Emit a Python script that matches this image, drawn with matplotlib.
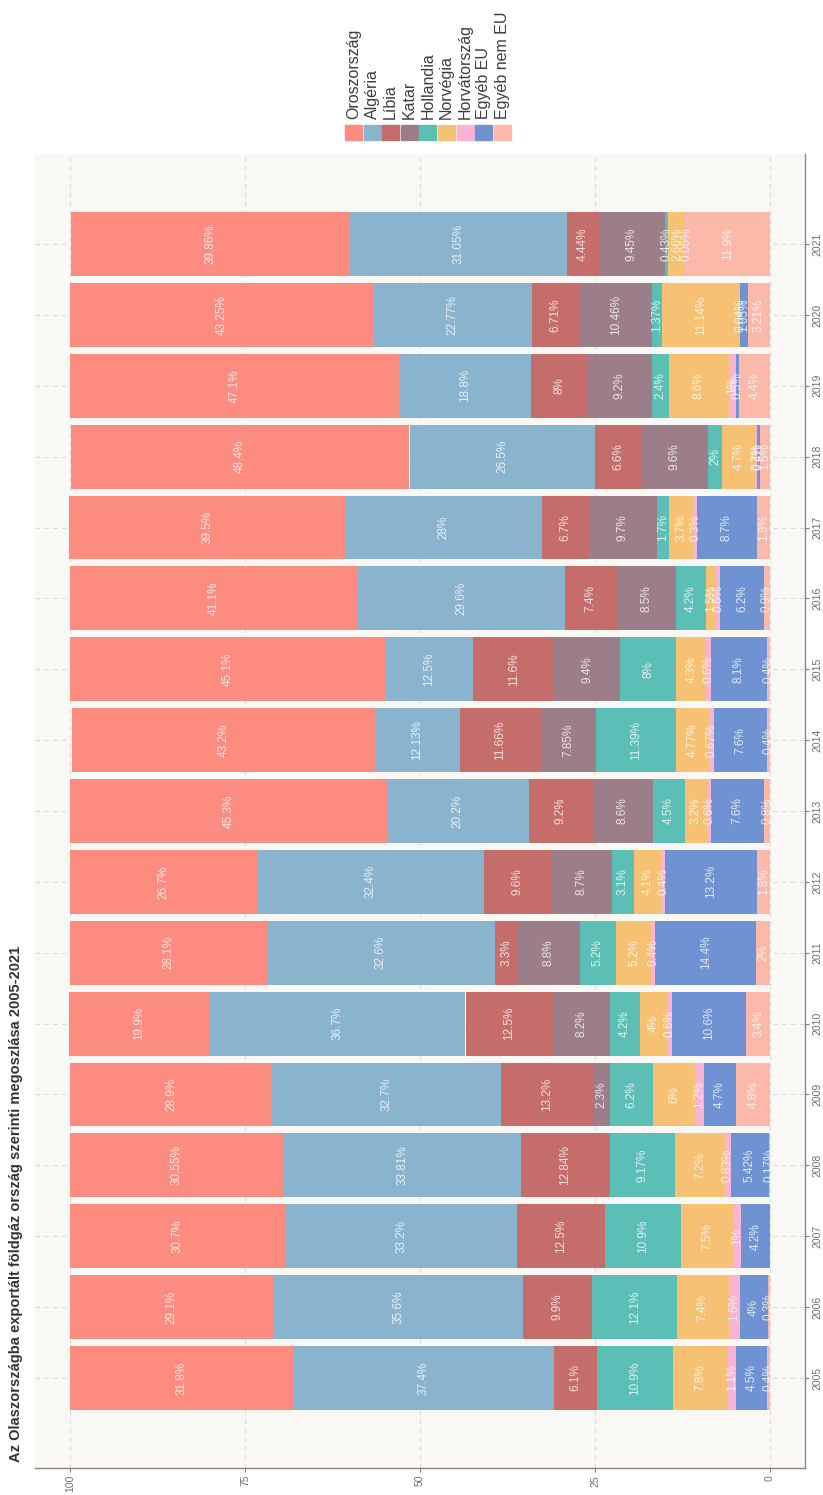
import numpy as np
import matplotlib.pyplot as plt
from matplotlib.patches import Rectangle

plt.rcParams['font.family'] = ['Liberation Sans', 'DejaVu Sans']

years = list(range(2005, 2022))
countries = ["Oroszország", "Algéria", "Líbia", "Katar", "Hollandia",
             "Norvégia", "Horvátország", "Egyéb EU", "Egyéb nem EU"]
colors = ["#FC8B80", "#8AB3CE", "#C46D6B", "#9B7E8A", "#5CBFB5",
          "#F7C174", "#F8B4D2", "#6F92D3", "#FCB8A9"]

# share (%) per year, 2005..2021
orosz = [31.8, 29.1, 30.7, 30.55, 28.9, 19.9, 28.1, 26.7, 45.3, 43.2, 45.1, 41.1, 39.5, 48.4, 47.1, 43.25, 39.86]
algeria = [37.4, 35.6, 33.2, 33.81, 32.7, 36.7, 32.6, 32.4, 20.2, 12.13, 12.5, 29.6, 28, 26.5, 18.8, 22.77, 31.05]
libia = [6.1, 9.9, 12.5, 12.84, 13.2, 12.5, 3.3, 9.6, 9.2, 11.66, 11.6, 7.4, 6.7, 6.6, 8, 6.71, 4.44]
katar = [0, 0, 0, 0, 2.3, 8.2, 8.8, 8.7, 8.6, 7.85, 9.4, 8.5, 9.7, 9.6, 9.2, 10.46, 9.45]
hollandia = [10.9, 12.1, 10.9, 9.17, 6.2, 4.2, 5.2, 3.1, 4.5, 11.39, 8, 4.2, 1.7, 2, 2.4, 1.37, 0.43]
norvegia = [7.8, 7.4, 7.5, 7.2, 6, 4, 5.2, 4.1, 3.2, 4.77, 4.3, 1.5, 3.7, 4.7, 8.6, 11.14, 2.66]
horvat = [1.1, 1.6, 1, 0.83, 1.2, 0.6, 0.4, 0.4, 0.6, 0.67, 0.6, 0.6, 0.3, 0.2, 1, 0.04, 0.06]
egyeb_eu = [4.5, 4, 4.2, 5.42, 4.7, 10.6, 14.4, 13.2, 7.6, 7.6, 8.1, 6.2, 8.7, 0.4, 0.5, 1.05, 0]
egyeb_nem_eu = [0.4, 0.3, 0, 0.17, 4.8, 3.4, 2, 1.8, 0.8, 0.4, 0.4, 0.9, 1.8, 1.5, 4.4, 3.21, 11.9]

series = [orosz, algeria, libia, katar, hollandia, norvegia, horvat, egyeb_eu, egyeb_nem_eu]

W, H = 823, 1495
fig = plt.figure(figsize=(W / 100, H / 100), dpi=100)
fig.patch.set_facecolor("white")

# panel in pixel terms
px0, px1, py0, py1 = 35, 805, 154, 1468
ax = fig.add_axes([px0 / W, 1 - py1 / H, (px1 - px0) / W, (py1 - py0) / H])
ax.set_facecolor("#FAF8F4")

y = np.arange(len(years))
left = np.zeros(len(years))
# stack from 0 (right side) starting with the last legend entry
for name, vals, col in reversed(list(zip(countries, series, colors))):
    vals = np.array(vals, dtype=float)
    ax.barh(y, vals, left=left, height=0.9, color=col, zorder=2)
    for yi, l, v in zip(y, left, vals):
        if v > 0:
            ax.text(l + v / 2, yi, f"{v:g}%", rotation=90, ha="center", va="center",
                    color="white", alpha=0.8, fontsize=8.5, zorder=3)
    left += vals

ax.set_xlim(105, -5)
ax.set_ylim(-1.27, len(years) - 1 + 1.27)
ax.set_xticks([0, 25, 50, 75, 100])
ax.set_xticklabels(["0", "25", "50", "75", "100"], rotation=90, va="top")
ax.set_yticks(y)
ax.set_yticklabels([str(v) for v in years], rotation=90, va="center")
ax.yaxis.tick_right()
ax.tick_params(axis="both", colors="#8a807c", labelcolor="#6e6e6e", labelsize=7.5,
               length=3, pad=2)

ax.grid(True, color="#dadada", linestyle=(0, (4, 4)), linewidth=0.8, zorder=0)
ax.set_axisbelow(True)
for side in ["left", "top"]:
    ax.spines[side].set_visible(False)
for side in ["bottom", "right"]:
    ax.spines[side].set_color("#8f8580")
    ax.spines[side].set_linewidth(1.0)

# legend drawn by hand so its text can stand rotated
for i, (name, col) in enumerate(zip(countries, colors)):
    x0 = 345 + i * 18.6
    fig.patches.append(Rectangle((x0 / W, 1 - 140 / H), 17 / W, 15 / H,
                                 transform=fig.transFigure, color=col))
    fig.text((x0 + 8.5) / W, 1 - 119 / H, name, rotation=90, ha="center", va="bottom",
             fontsize=11.5, color="#3c3c3c")

fig.text(16 / W, 1 - 1462 / H,
         "Az Olaszországba exportált földgáz ország szerinti megoszlása 2005-2021",
         rotation=90, ha="center", va="bottom", fontsize=10.5, fontweight="bold",
         color="#333333")

fig.savefig("out.png", dpi=100)
